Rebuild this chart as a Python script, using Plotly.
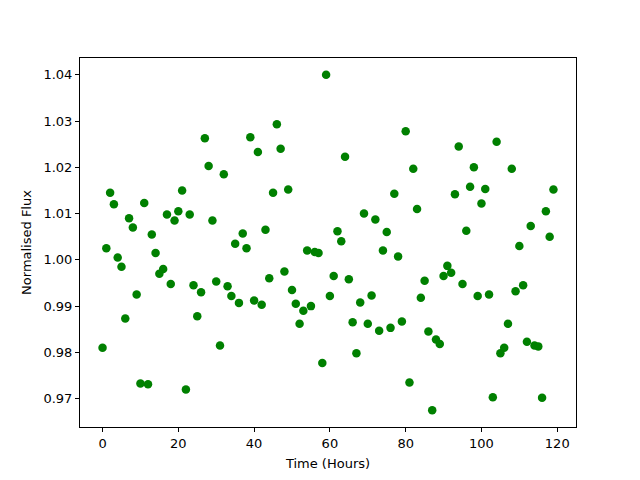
import plotly.graph_objects as go

time_hours = list(range(120))
flux = [
    0.9810, 1.0025, 1.0145, 1.0120, 1.0005, 0.9985, 0.9873, 1.0090, 1.0070, 0.9925,
    0.9733, 1.0123, 0.9731, 1.0055, 1.0015, 0.9970, 0.9980, 1.0098, 0.9948, 1.0085,
    1.0105, 1.0150, 0.9720, 1.0098, 0.9945, 0.9878, 0.9930, 1.0263, 1.0203, 1.0085,
    0.9953, 0.9815, 1.0185, 0.9943, 0.9922, 1.0035, 0.9907, 1.0057, 1.0025, 1.0265,
    0.9912, 1.0233, 0.9903, 1.0065, 0.9960, 1.0145, 1.0293, 1.0240, 0.9975, 1.0152,
    0.9935, 0.9905, 0.9862, 0.9890, 1.0020, 0.9900, 1.0017, 1.0015, 0.9777, 1.0400,
    0.9922, 0.9965, 1.0062, 1.0040, 1.0223, 0.9958, 0.9865, 0.9798, 0.9908, 1.0100,
    0.9862, 0.9923, 1.0087, 0.9847, 1.0020, 1.0060, 0.9853, 1.0143, 1.0007, 0.9867,
    1.0278, 0.9735, 1.0197, 1.0110, 0.9918, 0.9955, 0.9845, 0.9675, 0.9828, 0.9818,
    0.9965, 0.9987, 0.9972, 1.0142, 1.0245, 0.9948, 1.0063, 1.0158, 1.0200, 0.9922,
    1.0122, 1.0153, 0.9925, 0.9703, 1.0255, 0.9798, 0.9810, 0.9862, 1.0197, 0.9932,
    1.0030, 0.9945, 0.9823, 1.0073, 0.9815, 0.9813, 0.9702, 1.0105, 1.0050, 1.0152,
]
x_ticks = [0, 20, 40, 60, 80, 100, 120]
y_ticks = [0.97, 0.98, 0.99, 1.00, 1.01, 1.02, 1.03, 1.04]

fig = go.Figure()
fig.add_trace(go.Scatter(
    x=time_hours, y=flux, mode="markers",
    marker=dict(color="#008000", size=8.5, line=dict(width=0)),
    showlegend=False,
))

xspan = max(time_hours) - min(time_hours)
yspan = max(flux) - min(flux)
axis_common = dict(
    showline=True, linecolor="black", linewidth=1, mirror=True,
    ticks="outside", ticklen=4, tickcolor="black", tickwidth=1,
    showgrid=False, zeroline=False, automargin=False,
    tickfont=dict(family="DejaVu Sans", size=13, color="black"),
)
fig.update_layout(
    width=640, height=480,
    margin=dict(l=72, r=72, t=50, b=61),
    paper_bgcolor="white", plot_bgcolor="white",
    font=dict(family="DejaVu Sans", size=13, color="black"),
    xaxis=dict(
        range=[min(time_hours) - 0.05 * xspan, max(time_hours) + 0.05 * xspan],
        tickvals=x_ticks, ticktext=[str(t) for t in x_ticks],
        title=dict(text="Time (Hours)", font=dict(size=13), standoff=9),
        **axis_common,
    ),
    yaxis=dict(
        range=[min(flux) - 0.05 * yspan, max(flux) + 0.05 * yspan],
        tickvals=y_ticks, ticktext=[f"{t:.2f}" for t in y_ticks],
        title=dict(text="Normalised Flux", font=dict(size=13), standoff=8),
        **axis_common,
    ),
)
fig.write_html("out.html")
